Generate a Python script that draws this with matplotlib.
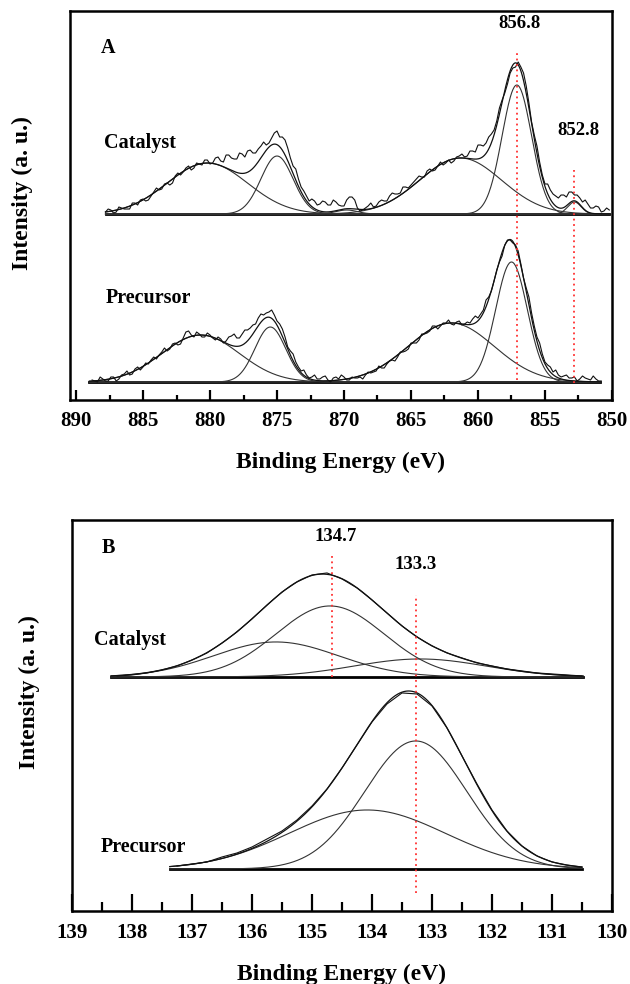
import numpy as np
from matplotlib import pyplot as plt

plt.rcParams['font.family'] = ['Liberation Serif', 'DejaVu Serif']
plt.rcParams['font.weight'] = 'bold'
plt.rcParams['axes.labelweight'] = 'bold'

# ---- A: Ni 2p, raw counts read every 0.2 eV (arbitrary units above baseline)
ni_cat_span = (887.8, 850.2)
ni_cat_raw = [2, 5, 4, 1, 2, 7, 6, 5, 5, 5, 11, 11, 9, 14, 15, 13, 14, 18, 22, 26,
              24, 25, 30, 31, 29, 31, 38, 41, 39, 42, 46, 48, 44, 46, 51, 50, 49, 54, 54, 50,
              51, 56, 57, 53, 52, 59, 59, 56, 55, 55, 61, 60, 57, 63, 64, 61, 61, 65, 68, 72,
              69, 71, 76, 81, 83, 77, 77, 74, 66, 56, 48, 45, 35, 27, 23, 18, 13, 15, 13, 9,
              10, 13, 12, 9, 9, 14, 12, 9, 8, 8, 14, 17, 17, 14, 6, 3, 4, 6, 8, 11,
              7, 8, 12, 14, 13, 13, 18, 21, 20, 20, 21, 27, 27, 26, 29, 32, 35, 38, 37, 37,
              43, 45, 43, 44, 48, 52, 49, 51, 54, 51, 53, 57, 58, 60, 57, 58, 63, 63, 62, 69,
              69, 68, 71, 77, 80, 84, 93, 106, 114, 121, 130, 141, 146, 147, 152, 147, 141, 128, 111, 92,
              79, 68, 52, 39, 30, 30, 24, 20, 18, 16, 19, 19, 17, 22, 22, 19, 19, 16, 12, 14,
              10, 6, 6, 8, 7, 2, 3, 6, 4]
ni_pre_span = (888.8, 850.8)
ni_pre_raw = [2, 1, 0, 5, 3, 1, 1, 5, 5, 1, 3, 7, 8, 11, 7, 8, 13, 15, 12, 15,
              19, 18, 22, 25, 23, 27, 30, 34, 31, 33, 38, 39, 37, 38, 44, 50, 51, 47, 45, 50,
              48, 45, 45, 49, 47, 44, 42, 45, 43, 39, 41, 45, 46, 48, 44, 44, 48, 52, 52, 54,
              57, 58, 64, 68, 67, 69, 70, 72, 67, 61, 58, 53, 45, 35, 31, 28, 20, 15, 11, 12,
              7, 4, 5, 7, 3, 3, 5, 6, 2, 0, 4, 5, 3, 7, 5, 2, 2, 5, 4, 4,
              5, 3, 7, 10, 9, 10, 11, 16, 14, 14, 18, 21, 22, 21, 25, 30, 30, 31, 33, 39,
              39, 39, 42, 48, 48, 49, 51, 56, 56, 53, 56, 59, 59, 62, 58, 57, 60, 61, 57, 58,
              60, 59, 63, 66, 64, 68, 72, 82, 85, 91, 101, 112, 120, 126, 137, 142, 142, 139, 137, 131,
              118, 104, 94, 85, 69, 56, 45, 39, 28, 20, 17, 15, 10, 12, 7, 5, 6, 7, 4, 4,
              5, 1, 3, 6, 4, 3, 2, 6, 3, 1, 1]

# fitted peaks: centre (eV), height, sigma (eV)
ni_cat_centers = [880.2, 875.0, 869.8, 861.3, 857.1, 852.8]
ni_cat_heights = [51, 58, 4, 56, 129, 12]
ni_cat_widths = [3.0, 1.2, 0.8, 3.05, 1.1, 0.5]
ni_pre_centers = [880.7, 875.5, 862.0, 857.5]
ni_pre_heights = [47, 55, 59, 120]
ni_pre_widths = [2.9, 1.15, 3.2, 1.18]

ni_marks = [857.1, 852.8]
ni_mark_labels = ['856.8', '852.8']
ni_ticks = [890, 885, 880, 875, 870, 865, 860, 855, 850]

# ---- B: P 2p, raw counts read every 0.25 eV
p_cat_span = (138.25, 130.5)
p_cat_raw = [1, 2, 4, 7, 11, 17, 24, 34, 45, 58, 72, 85, 95, 102, 104, 98,
             89, 77, 64, 51, 40, 31, 24, 19, 14, 11, 8, 6, 4, 3, 2, 1]
p_pre_span = (137.25, 130.5)
p_pre_raw = [3, 5, 7, 12, 16, 22, 30, 38, 49, 63, 80, 101, 124, 147,
             165, 176, 175, 163, 141, 113, 85, 59, 38, 23, 13, 7, 4, 2]

p_cat_centers = [135.6, 134.7, 133.2]
p_cat_heights = [35, 71, 18]
p_cat_widths = [1.04, 0.9, 1.1]
p_pre_centers = [134.08, 133.27]
p_pre_heights = [59, 128]
p_pre_widths = [1.3, 0.85]

p_marks = [134.66, 133.27]
p_mark_labels = ['134.7', '133.3']
p_ticks = [139, 138, 137, 136, 135, 134, 133, 132, 131, 130]


def gauss(x, c, h, s):
    return h * np.exp(-(x - c) ** 2 / (2 * s * s))


def draw_spectrum(ax, span, raw, centers, heights, widths, offset, base_span):
    x = np.linspace(base_span[0], base_span[1], 800)
    comps = [gauss(x, c, h, s) for c, h, s in zip(centers, heights, widths)]
    env = np.sum(comps, axis=0)
    ax.plot(x, np.full_like(x, offset), color='black', lw=2.0)
    for comp in comps:
        ax.plot(x, comp + offset, color='#333333', lw=0.8)
    ax.plot(x, env + offset, color='#111111', lw=0.9)
    x_raw = np.linspace(span[0], span[1], len(raw))
    ax.plot(x_raw, np.array(raw) + offset, color='#111111', lw=0.8)


def style_axis(ax, ticks, minor, major_len, minor_len, pad):
    for sp in ax.spines.values():
        sp.set_linewidth(1.8)
    ax.set_yticks([])
    ax.set_xticks(ticks)
    ax.set_xticklabels([str(t) for t in ticks])
    ax.set_xticks(minor, minor=True)
    ax.tick_params(axis='x', which='major', direction='in', length=major_len,
                   width=1.6, pad=pad, labelsize=15)
    ax.tick_params(axis='x', which='minor', direction='in', length=minor_len,
                   width=1.6)


red_style = dict(color='#ff3030', lw=1.3, linestyle=(0, (1, 2)))

fig = plt.figure(figsize=(6.3, 9.84), dpi=100)

# panel A
axA = fig.add_axes([0.1111, 0.5935, 0.8603, 0.3953])
draw_spectrum(axA, ni_cat_span, ni_cat_raw, ni_cat_centers, ni_cat_heights,
              ni_cat_widths, 186, (887.8, 850.2))
draw_spectrum(axA, ni_pre_span, ni_pre_raw, ni_pre_centers, ni_pre_heights,
              ni_pre_widths, 18, (889.0, 850.9))
axA.plot([ni_marks[0], ni_marks[0]], [20, 347], **red_style)
axA.plot([ni_marks[1], ni_marks[1]], [17, 230], **red_style)
axA.text(856.9, 377, ni_mark_labels[0], fontsize=13.5, ha='center', va='center')
axA.text(852.5, 270, ni_mark_labels[1], fontsize=13.5, ha='center', va='center')
axA.text(887.6, 352, 'A', fontsize=14.5, ha='center', va='center')
axA.text(887.9, 257, 'Catalyst', fontsize=14.5, ha='left', va='center')
axA.text(887.8, 102, 'Precursor', fontsize=14.5, ha='left', va='center')
axA.set_xlim(890.45, 850)
axA.set_ylim(0, 389)
style_axis(axA, ni_ticks, np.arange(852.5, 890, 5), 7, 3.5, 8)
axA.set_xlabel('Binding Energy (eV)', fontsize=17)
axA.set_ylabel('Intensity (a. u.)', fontsize=17)
axA.xaxis.set_label_coords(0.5, -0.132)
axA.yaxis.set_label_coords(-0.068, 0.532)

# panel B
axB = fig.add_axes([0.1143, 0.0742, 0.8571, 0.3974])
draw_spectrum(axB, p_cat_span, p_cat_raw, p_cat_centers, p_cat_heights,
              p_cat_widths, 234, (138.35, 130.48))
draw_spectrum(axB, p_pre_span, p_pre_raw, p_pre_centers, p_pre_heights,
              p_pre_widths, 42, (137.37, 130.5))
axB.plot([p_marks[0], p_marks[0]], [234, 356], **red_style)
axB.plot([p_marks[1], p_marks[1]], [18, 316], **red_style)
axB.text(134.6, 374, p_mark_labels[0], fontsize=13.5, ha='center', va='center')
axB.text(133.27, 346, p_mark_labels[1], fontsize=13.5, ha='center', va='center')
axB.text(138.4, 363, 'B', fontsize=14.5, ha='center', va='center')
axB.text(138.63, 271, 'Catalyst', fontsize=14.5, ha='left', va='center')
axB.text(138.53, 64, 'Precursor', fontsize=14.5, ha='left', va='center')
axB.set_xlim(139, 130)
axB.set_ylim(0, 391)
style_axis(axB, p_ticks, np.arange(130.5, 139, 1.0), 12, 6.5, 9)
axB.set_xlabel('Binding Energy (eV)', fontsize=17)
axB.set_ylabel('Intensity (a. u.)', fontsize=17)
axB.xaxis.set_label_coords(0.5, -0.134)
axB.yaxis.set_label_coords(-0.059, 0.56)

plt.savefig('out.png', dpi=100)
plt.close()
